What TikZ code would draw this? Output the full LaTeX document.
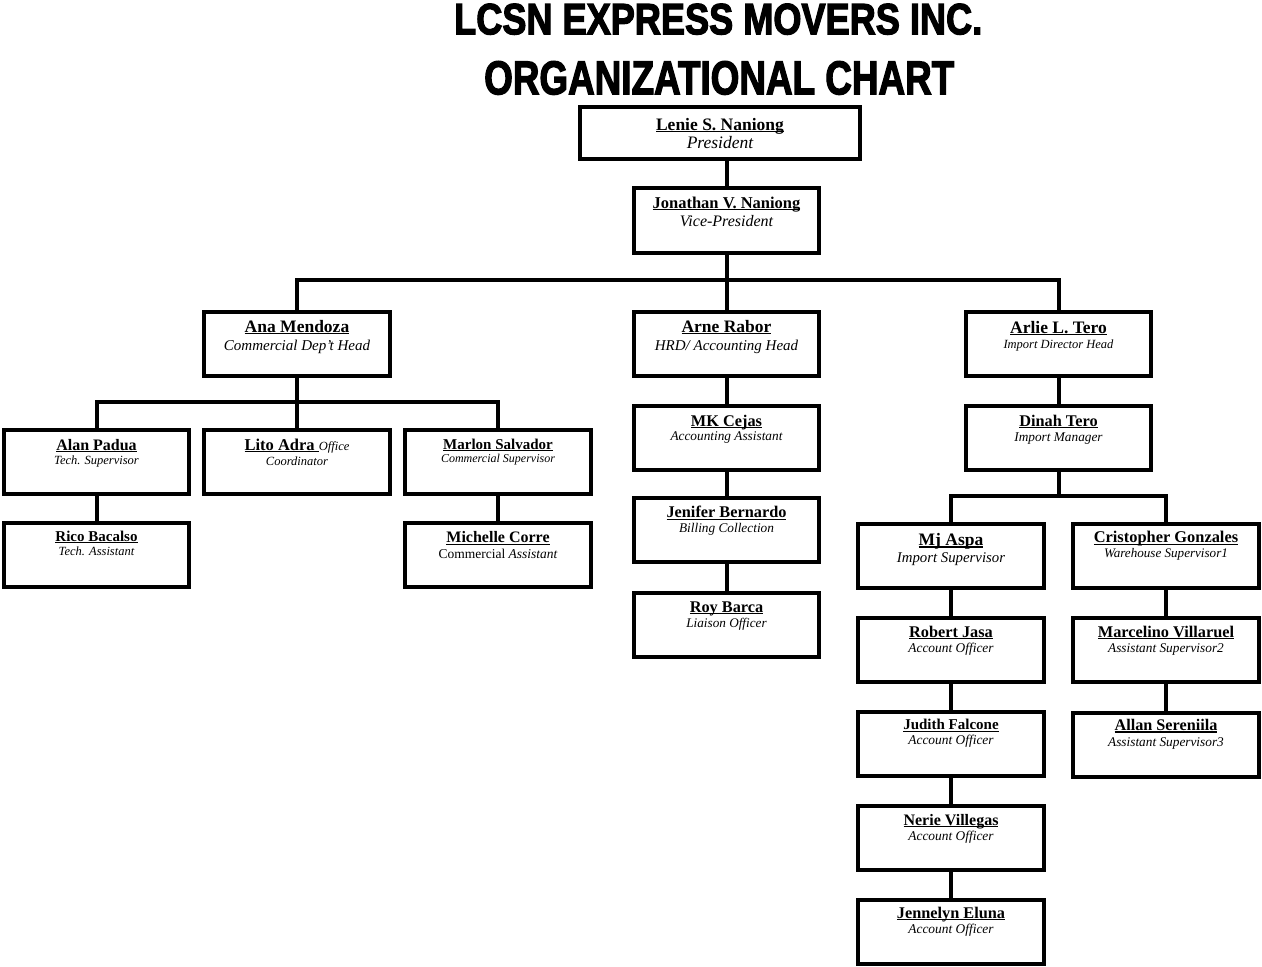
\documentclass[tikz,border=0pt]{standalone}
\usepackage{fontspec}
\usepackage{graphicx}
\usetikzlibrary{calc}
\setmainfont{Liberation Serif}
\newfontfamily\titlefont{Liberation Sans}[BoldFeatures={FakeBold=3}]
\newsavebox\nmbox
\newcommand\nmul[1]{\sbox\nmbox{#1}\rlap{\rule[-2pt]{\wd\nmbox}{1.1pt}}\usebox\nmbox}
\newcommand\person[9]{%
  \node[box,#3] (#1) at (#2) {};
  \node[lbl,font=\fontsize{#4}{#4}\selectfont\bfseries] (#1-n) at ($(#1.north)+(0,#8)$) {#5};
  \node[lbl,font=\fontsize{#6}{#6}\selectfont\itshape] (#1-t) at ($(#1.north)+(0,#9)$) {#7};
}
\tikzset{
  box/.style={draw, line width=4pt, minimum width=185.5pt, minimum height=64pt, inner sep=0pt, fill=white},
  conn/.style={line width=4pt, line cap=rect, line join=miter},
  lbl/.style={inner sep=0pt, anchor=base},
  ttl/.style={inner sep=0pt, anchor=north west}
}
\begin{document}
\begin{tikzpicture}[x=1pt,y=-1pt]
\useasboundingbox (0,0) rectangle (1262,967);
\fill[white] (0,0) rectangle (1262,967);

% title
\node[ttl] (title1) at (454,3.5) {\resizebox{528pt}{30.5pt}{\titlefont\bfseries LCSN EXPRESS MOVERS INC.}};
\node[ttl] (title2) at (484,61) {\resizebox{470pt}{33pt}{\titlefont\bfseries ORGANIZATIONAL CHART}};

\coordinate (bus1) at (726.5,280);
\coordinate (bus2) at (297,401.5);
\coordinate (bus3) at (1058.5,495.5);

% boxes
\person{pres}{720,133}{minimum width=279.5pt, minimum height=52pt}{17.5}{\nmul{Lenie S. Naniong}}{17.5}{President}{25}{43}
\person{vp}{726.5,220.7}{minimum height=65pt}{16.5}{\nmul{Jonathan V. Naniong}}{16}{Vice-President}{22}{40}

\person{ana}{297,344}{}{17.5}{\nmul{Ana Mendoza}}{15}{Commercial Dep't Head}{22}{40}
\person{arne}{726.5,344}{}{17.5}{\nmul{Arne Rabor}}{15}{HRD/ Accounting Head}{22}{40}
\person{arlie}{1058.5,344}{}{17.5}{\nmul{Arlie L. Tero}}{12.5}{Import Director Head}{23}{38}

\person{alan}{96.5,462}{}{16}{\nmul{Alan Padua}}{12.5}{Tech. Supervisor}{22}{36}
\person{lito}{297,462}{}{16.5}{\nmul{Lito Adra\ }{\mdseries\itshape\fontsize{12.5}{12.5}\selectfont Office}}{12.5}{Coordinator}{22}{37}
\person{marlon}{498,462}{}{15}{\nmul{Marlon Salvador}}{12}{Commercial Supervisor}{21}{34.5}
\person{rico}{96.5,554.7}{}{15}{\nmul{Rico Bacalso}}{12.5}{Tech. Assistant}{20.5}{35}
\person{michelle}{498,554.7}{}{16}{\nmul{Michelle Corre}}{13.5}{{\upshape Commercial} Assistant}{22}{38}

\person{mk}{726.5,438.3}{}{16.3}{\nmul{MK Cejas}}{13.3}{Accounting Assistant}{21.7}{36.3}
\person{jenifer}{726.5,530}{}{16.3}{\nmul{Jenifer Bernardo}}{13.3}{Billing Collection}{21.7}{36.3}
\person{roy}{726.5,624.7}{}{16.3}{\nmul{Roy Barca}}{13.2}{Liaison Officer}{21.7}{36.3}

\person{dinah}{1058.5,438.3}{}{16.3}{\nmul{Dinah Tero}}{13.3}{Import Manager}{22}{36.7}
\person{mj}{951,555.5}{}{17.5}{\nmul{Mj Aspa}}{14.8}{Import Supervisor}{24}{40.5}
\person{cris}{1166,555.5}{}{16.4}{\nmul{Cristopher Gonzales}}{13.1}{Warehouse Supervisor1}{21.3}{35.6}
\person{robert}{951,650}{}{16.3}{\nmul{Robert Jasa}}{13.4}{Account Officer}{21.3}{36.3}
\person{judith}{951,744}{}{15}{\nmul{Judith Falcone}}{13.4}{Account Officer}{19.7}{34.7}
\person{nerie}{951,838}{}{16}{\nmul{Nerie Villegas}}{13.4}{Account Officer}{21.4}{36.4}
\person{jennelyn}{951,931.5}{}{16.3}{\nmul{Jennelyn Eluna}}{13.4}{Account Officer}{20.7}{35.7}
\person{marcelino}{1166,650}{}{16.3}{\nmul{Marcelino Villaruel}}{13.3}{Assistant Supervisor2}{21.3}{36.3}
\person{allan}{1166,744.5}{}{16.2}{\nmul{Allan Sereniila}}{13.3}{Assistant Supervisor3}{20}{35.6}

% connectors
\draw[conn] (vp.north) -- (vp.north |- pres.south);
\draw[conn] (vp.south) -- (bus1) -- (arne.north);
\draw[conn] (ana.north) |- (bus1) -| (arlie.north);

\draw[conn] (ana.south) -- (bus2) -- (lito.north);
\draw[conn] (alan.north) |- (bus2) -| (marlon.north);
\draw[conn] (alan.south) -- (rico.north);
\draw[conn] (marlon.south) -- (michelle.north);

\draw[conn] (arne.south) -- (mk.north);
\draw[conn] (mk.south) -- (jenifer.north);
\draw[conn] (jenifer.south) -- (roy.north);

\draw[conn] (arlie.south) -- (dinah.north);
\draw[conn] (dinah.south) -- (bus3);
\draw[conn] (mj.north) |- (bus3) -| (cris.north);
\draw[conn] (mj.south) -- (robert.north);
\draw[conn] (robert.south) -- (judith.north);
\draw[conn] (judith.south) -- (nerie.north);
\draw[conn] (nerie.south) -- (jennelyn.north);
\draw[conn] (cris.south) -- (marcelino.north);
\draw[conn] (marcelino.south) -- (allan.north);
\end{tikzpicture}
\end{document}
